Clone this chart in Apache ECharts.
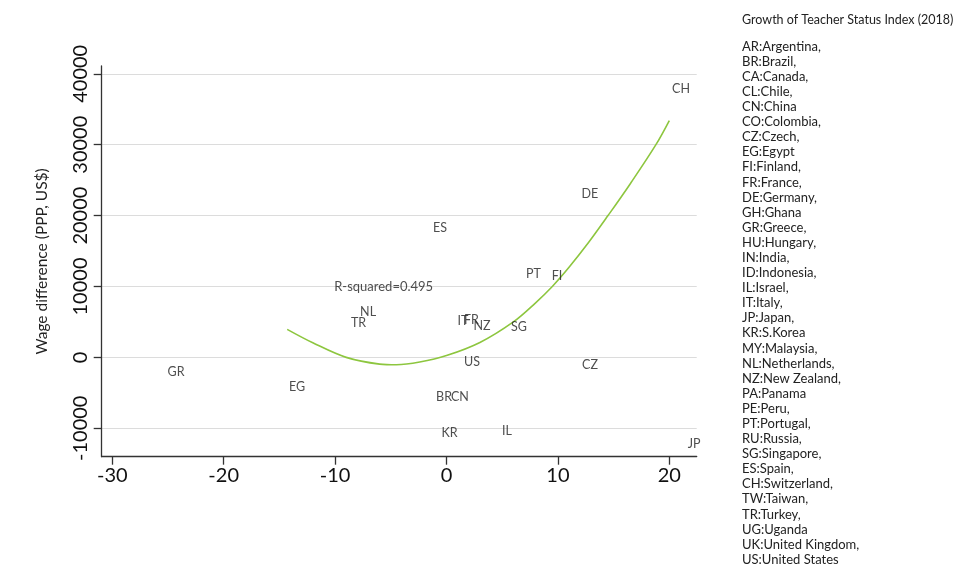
<!DOCTYPE html>
<html>
<head>
<meta charset="utf-8">
<script src="https://cdn.jsdelivr.net/npm/echarts@6/dist/echarts.min.js"></script>
<style>html,body{margin:0;padding:0;background:#fff}#c{width:964px;height:567px}</style>
</head>
<body>
<div id="c"></div>
<script>
// Country codes and their (growth of teacher status index, wage difference) positions
const codes = ['CH','DE','PT','FI','SG','CZ','IL','JP','ES','NL','TR','IT','FR','NZ','US','GR','EG','BR','CN','KR'];
const statusGrowth = [21.05,12.88,7.81,9.92,6.51,12.88,5.43,22.22,-0.58,-7.04,-7.90,1.48,2.24,3.19,2.29,-24.28,-13.42,-0.22,1.21,0.27];
const wageDiff = [37900,22980,11765,11483,4280,-1090,-10410,-12250,18260,6400,4845,5130,5270,4420,-660,-2080,-4195,-5610,-5610,-10690];

// Fitted curve
const fitX = [-14.3,-12,-9,-6,-4.5,-2.4,0,3,6,8,9.5,11,12.8,14.5,16.5,18.8,20];
const fitY = [3955,2062,0,-946,-1045,-664,250,2100,5000,7700,10000,12700,16300,20000,24500,30000,33400];

// Tick labels
const xTicks = [-30,-20,-10,0,10,20];
const yTicks = [-10000,0,10000,20000,30000,40000];

// Annotation
const rsqText = 'R-squared=0.495';
const rsqAt = [-5.64, 9890];

// Side notes
const sideTitle = 'Growth of Teacher Status Index (2018)';
const sideList = ['AR:Argentina,','BR:Brazil,','CA:Canada,','CL:Chile,','CN:China','CO:Colombia,','CZ:Czech,','EG:Egypt','FI:Finland,','FR:France,','DE:Germany,','GH:Ghana','GR:Greece,','HU:Hungary,','IN:India,','ID:Indonesia,','IL:Israel,','IT:Italy,','JP:Japan,','KR:S.Korea','MY:Malaysia,','NL:Netherlands,','NZ:New Zealand,','PA:Panama','PE:Peru,','PT:Portugal,','RU:Russia,','SG:Singapore,','ES:Spain,','CH:Switzerland,','TW:Taiwan,','TR:Turkey,','UG:Uganda','UK:United Kingdom,','US:United States'];

const FONT = 'Lato, "Open Sans", sans-serif';
const chart = echarts.init(document.getElementById('c'), null, {renderer: 'canvas'});

const pts = codes.map((c, i) => ({name: c, value: [statusGrowth[i], wageDiff[i]]}));
const fit = fitX.map((x, i) => [x, fitY[i]]);

chart.setOption({
  backgroundColor: '#fff',
  animation: false,
  textStyle: {fontFamily: FONT},
  title: [
    {text: sideTitle, left: 737, top: 8, textStyle: {fontFamily: FONT, fontSize: 12.5, fontWeight: 'normal', color: '#222'}},
    {text: sideList.join('\n'), left: 737, top: 34, textStyle: {fontFamily: FONT, fontSize: 13, fontWeight: 'normal', color: '#222', lineHeight: 15.09}}
  ],
  grid: {left: 101.7, right: 267.3, top: 66, bottom: 110.3, containLabel: false},
  xAxis: {
    type: 'value', min: -30.95, max: 22.46,
    axisLine: {show: true, onZero: false, lineStyle: {color: '#333', width: 1.3}},
    axisTick: {show: true, length: 8, customValues: xTicks, lineStyle: {color: '#333', width: 1.3}},
    axisLabel: {customValues: xTicks, fontSize: 20, color: '#111', margin: 9, fontFamily: FONT},
    splitLine: {show: false}
  },
  yAxis: {
    type: 'value', min: -14010, max: 41100,
    name: 'Wage difference (PPP, US$)', nameLocation: 'middle', nameGap: 52,
    nameTextStyle: {fontSize: 15.5, color: '#222', fontFamily: FONT},
    axisLine: {show: true, onZero: false, lineStyle: {color: '#333', width: 1.3}},
    axisTick: {show: true, length: 8, customValues: yTicks, lineStyle: {color: '#333', width: 1.3}},
    axisLabel: {customValues: yTicks, rotate: 90, fontSize: 20, color: '#111', margin: 11, fontFamily: FONT,
      formatter: v => String(v)},
    splitLine: {show: false}
  },
  series: [
    {
      type: 'line', data: [], silent: true, z: 0,
      markLine: {
        silent: true, symbol: 'none', label: {show: false}, z: 0,
        lineStyle: {color: '#dcdcdc', width: 1.2, type: 'solid'},
        data: yTicks.map(v => ({yAxis: v}))
      }
    },
    {
      type: 'line', data: fit, smooth: 0.35, showSymbol: false, silent: true,
      lineStyle: {color: '#8dc63f', width: 1.6}, z: 3
    },
    {
      type: 'scatter', data: pts, symbolSize: 0, silent: true, z: 6,
      label: {show: true, position: 'inside', formatter: p => p.name, fontSize: 12.5, color: '#222', fontFamily: FONT}
    },
    {
      type: 'scatter', data: [{name: rsqText, value: rsqAt}], symbolSize: 0, silent: true, z: 6,
      label: {show: true, position: 'inside', formatter: p => p.name, fontSize: 13, color: '#222', fontFamily: FONT}
    }
  ]
});
</script>
</body>
</html>
